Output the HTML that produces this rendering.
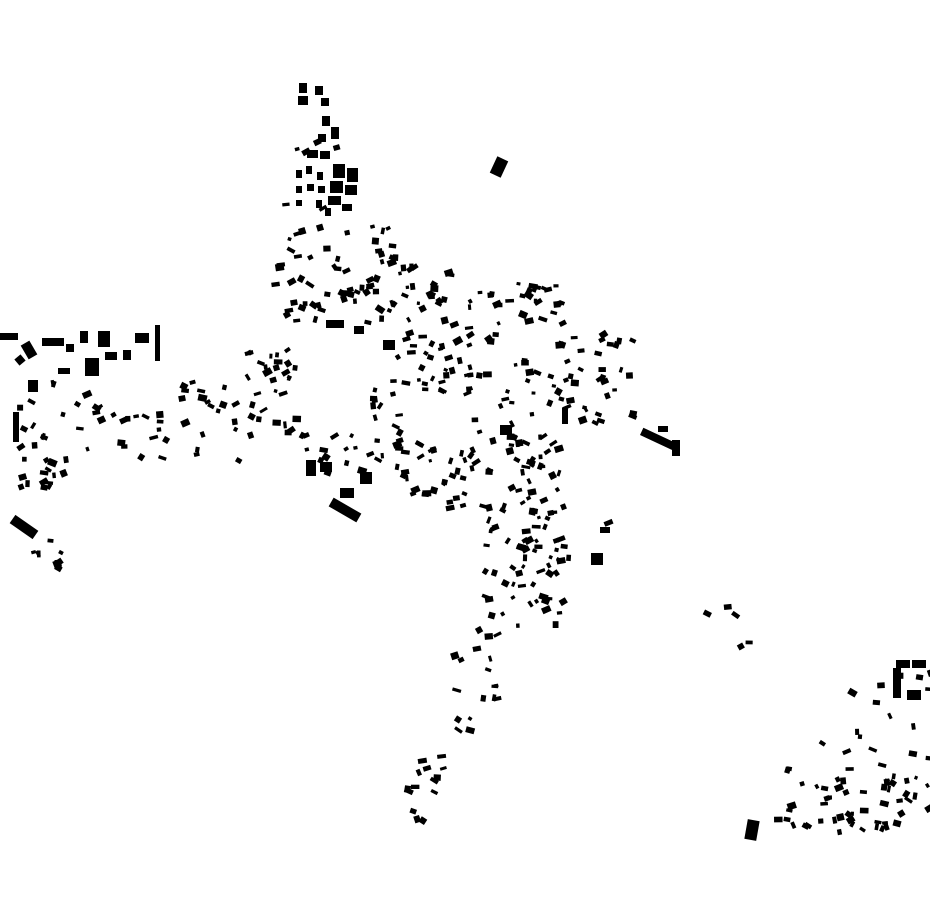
<!DOCTYPE html>
<html><head><meta charset="utf-8"><style>
html,body{margin:0;padding:0;background:#fff;width:930px;height:924px;overflow:hidden}
svg{display:block}
</style></head><body>
<svg id="m" width="930" height="924" viewBox="0 0 930 924" xmlns="http://www.w3.org/2000/svg">
<g fill="#000" id="g">
<rect x="299" y="83" width="8" height="10"/><rect x="298" y="96" width="10" height="9"/>
<rect x="315" y="86" width="8" height="9"/><rect x="321" y="98" width="8" height="8"/>
<rect x="322" y="116" width="8" height="10"/><rect x="331" y="127" width="8" height="12"/>
<rect x="318" y="134" width="8" height="8"/><rect x="307" y="150" width="11" height="8"/>
<rect x="320" y="151" width="10" height="8"/><rect x="333" y="164" width="12" height="14"/>
<rect x="347" y="168" width="11" height="14"/><rect x="330" y="181" width="13" height="12"/>
<rect x="345" y="185" width="12" height="10"/><rect x="328" y="196" width="13" height="9"/>
<rect x="342" y="204" width="10" height="7"/><rect x="296" y="170" width="6" height="8"/>
<rect x="306" y="166" width="6" height="8"/><rect x="317" y="172" width="6" height="8"/>
<rect x="296" y="186" width="6" height="7"/><rect x="307" y="184" width="7" height="7"/>
<rect x="318" y="186" width="7" height="7"/><rect x="296" y="200" width="6" height="6"/>
<rect x="316" y="200" width="6" height="8"/><rect x="325" y="208" width="6" height="8"/>
<rect x="493" y="158" width="12" height="18" transform="rotate(25 499 167)"/>
<rect x="0" y="333" width="18" height="7"/><rect x="24" y="342" width="10" height="16" transform="rotate(-30 29 350)"/>
<rect x="42" y="338" width="22" height="8"/><rect x="66" y="344" width="8" height="8"/>
<rect x="80" y="331" width="8" height="12"/><rect x="98" y="331" width="12" height="16"/>
<rect x="85" y="358" width="14" height="18"/><rect x="105" y="352" width="12" height="8"/>
<rect x="123" y="350" width="8" height="10"/><rect x="135" y="333" width="14" height="10"/>
<rect x="155" y="325" width="5" height="36"/><rect x="58" y="368" width="12" height="6"/>
<rect x="16" y="356" width="8" height="8" transform="rotate(-40 20 360)"/>
<rect x="28" y="380" width="10" height="12"/><rect x="13" y="412" width="6" height="30"/>
<rect x="10" y="522" width="28" height="10" transform="rotate(35 24 527)"/>
<rect x="326" y="320" width="18" height="8"/><rect x="354" y="326" width="10" height="8"/>
<rect x="383" y="340" width="12" height="10"/>
<rect x="329" y="505" width="32" height="10" transform="rotate(30 345 510)"/>
<rect x="340" y="488" width="14" height="10"/><rect x="360" y="472" width="12" height="12"/>
<rect x="306" y="460" width="10" height="16"/><rect x="320" y="462" width="12" height="10"/>
<rect x="640" y="435" width="36" height="8" transform="rotate(25 658 439)"/>
<rect x="672" y="440" width="8" height="16"/><rect x="658" y="426" width="10" height="6"/>
<rect x="591" y="553" width="12" height="12"/><rect x="600" y="527" width="10" height="6"/>
<rect x="896" y="660" width="14" height="8"/><rect x="893" y="668" width="8" height="30"/>
<rect x="912" y="660" width="14" height="8"/><rect x="907" y="690" width="14" height="10"/>
<rect x="746" y="820" width="12" height="20" transform="rotate(10 752 830)"/>
<rect x="562" y="408" width="6" height="16"/><rect x="500" y="425" width="12" height="10"/>
</g>
</svg>
<script>
(function(){
var s=12345;function r(){s=(s*1103515245+12345)%2147483648;return s/2147483648;}
var g=document.getElementById('g');var ns='http://www.w3.org/2000/svg';
var C=[[270,225,420,320,70],[280,140,360,215,6],[15,380,240,460,55],[240,350,300,440,30],
[300,430,400,470,20],[15,455,70,495,14],
[400,270,470,400,45],[440,280,560,400,50],[400,440,560,510,55],[470,400,550,460,20],
[555,330,640,420,35],[480,495,560,630,55],[450,620,495,730,18],
[400,750,445,820,14],[770,760,900,830,40],[820,670,930,830,30],[30,530,70,580,10],
[370,350,410,440,14],[700,600,770,660,5],[520,500,610,560,10]];
C.forEach(function(c){for(var i=0;i<c[4];i++){var e=document.createElementNS(ns,'rect');
var w=3+r()*6,h=3+r()*4;var x=c[0]+r()*(c[2]-c[0]),y=c[1]+r()*(c[3]-c[1]);
e.setAttribute('x',x.toFixed(1));e.setAttribute('y',y.toFixed(1));
e.setAttribute('width',w.toFixed(1));e.setAttribute('height',h.toFixed(1));
e.setAttribute('transform','rotate('+Math.round((r()-0.5)*70)+' '+x.toFixed(0)+' '+y.toFixed(0)+')');
g.appendChild(e);}});
})();
</script>
</body></html>
